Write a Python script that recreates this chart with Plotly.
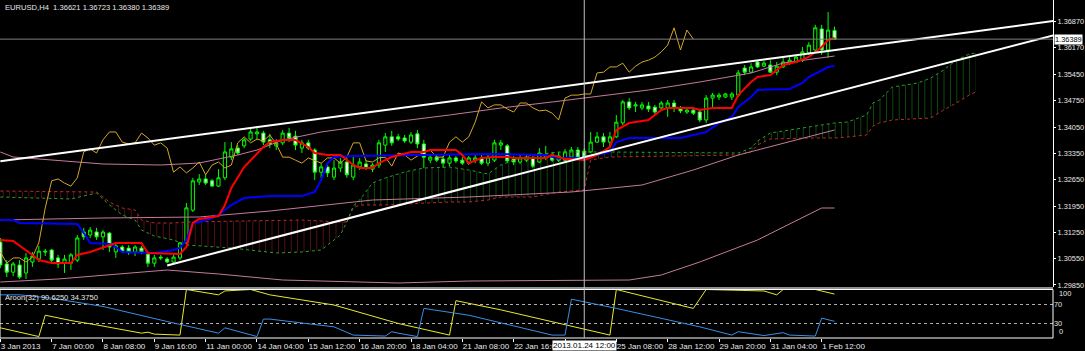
import plotly.graph_objects as go

# ---------------- data ----------------
bar_idx = list(range(131))
opens = [1.3099,1.3041,1.3019,1.3038,1.3017,1.3046,1.3054,1.3075,1.3078,1.3057,
         1.3043,1.3043,1.3051,1.3126,1.3118,1.3126,1.3113,1.3123,1.3073,1.3086,
         1.3083,1.3073,1.3083,1.3067,1.3043,1.3059,1.3054,1.3046,1.3057,1.3097,
         1.3184,1.3259,1.3267,1.3262,1.3248,1.3270,1.3325,1.3349,1.3355,1.3373,
         1.3387,1.3389,1.3371,1.3355,1.3363,1.3389,1.3381,1.3349,1.3363,1.3344,
         1.3285,1.3299,1.3272,1.3296,1.3312,1.3272,1.3299,1.3307,1.3293,1.3304,
         1.3357,1.3379,1.3379,1.3376,1.3365,1.3387,1.3360,1.3317,1.3325,1.3320,
         1.3309,1.3323,1.3317,1.3309,1.3317,1.3323,1.3309,1.3317,1.3357,1.3355,
         1.3320,1.3312,1.3317,1.3323,1.3312,1.3323,1.3331,1.3317,1.3317,1.3325,
         1.3344,1.3341,1.3339,1.3365,1.3379,1.3365,1.3379,1.3416,1.3472,1.3461,
         1.3456,1.3461,1.3458,1.3456,1.3456,1.3469,1.3456,1.3445,1.3450,1.3445,
         1.3424,1.3482,1.3485,1.3485,1.3485,1.3490,1.3562,1.3551,1.3578,1.3567,
         1.3570,1.3551,1.3565,1.3575,1.3578,1.3583,1.3602,1.3610,1.3666,1.3610,
         1.36621]
highs = [1.3110,1.3051,1.3046,1.3051,1.3070,1.3073,1.3089,1.3081,1.3081,1.3065,
         1.3065,1.3070,1.3118,1.3137,1.3139,1.3137,1.3131,1.3126,1.3097,1.3091,
         1.3091,1.3091,1.3089,1.3073,1.3065,1.3065,1.3059,1.3070,1.3099,1.3203,
         1.3270,1.3280,1.3278,1.3267,1.3293,1.3365,1.3365,1.3357,1.3376,1.3400,
         1.3403,1.3395,1.3387,1.3373,1.3397,1.3403,1.3395,1.3371,1.3371,1.3349,
         1.3309,1.3312,1.3317,1.3323,1.3323,1.3331,1.3323,1.3317,1.3309,1.3371,
         1.3389,1.3395,1.3387,1.3384,1.3392,1.3397,1.3371,1.3331,1.3333,1.3328,
         1.3331,1.3328,1.3325,1.3328,1.3331,1.3331,1.3331,1.3371,1.3371,1.3360,
         1.3328,1.3331,1.3333,1.3328,1.3349,1.3355,1.3339,1.3339,1.3347,1.3352,
         1.3352,1.3349,1.3392,1.3392,1.3389,1.3392,1.3437,1.3477,1.3482,1.3472,
         1.3472,1.3472,1.3464,1.3474,1.3477,1.3477,1.3461,1.3456,1.3456,1.3450,
         1.3490,1.3496,1.3496,1.3496,1.3498,1.3557,1.3570,1.3575,1.3583,1.3581,
         1.3583,1.3578,1.3589,1.3591,1.3597,1.3618,1.3631,1.3677,1.3677,1.3711,
         1.36723]
lows = [1.3030,1.3006,1.3009,1.3001,1.3001,1.3033,1.3046,1.3062,1.3046,1.3030,
        1.3017,1.3025,1.3046,1.3105,1.3110,1.3105,1.3078,1.3073,1.3057,1.3070,
        1.3065,1.3062,1.3067,1.3033,1.3033,1.3051,1.3043,1.3041,1.3051,1.3091,
        1.3179,1.3251,1.3251,1.3246,1.3246,1.3264,1.3317,1.3331,1.3349,1.3368,
        1.3373,1.3357,1.3349,1.3344,1.3357,1.3365,1.3344,1.3336,1.3344,1.3264,
        1.3270,1.3272,1.3264,1.3285,1.3270,1.3264,1.3291,1.3291,1.3285,1.3296,
        1.3339,1.3355,1.3368,1.3363,1.3360,1.3349,1.3296,1.3309,1.3312,1.3296,
        1.3301,1.3309,1.3304,1.3304,1.3309,1.3304,1.3301,1.3312,1.3344,1.3309,
        1.3304,1.3307,1.3312,1.3296,1.3309,1.3317,1.3312,1.3312,1.3309,1.3320,
        1.3317,1.3317,1.3336,1.3363,1.3352,1.3352,1.3376,1.3410,1.3450,1.3445,
        1.3450,1.3445,1.3437,1.3450,1.3432,1.3445,1.3442,1.3440,1.3437,1.3418,
        1.3416,1.3458,1.3477,1.3482,1.3477,1.3485,1.3543,1.3549,1.3562,1.3565,
        1.3549,1.3543,1.3562,1.3570,1.3575,1.3578,1.3597,1.3605,1.3597,1.3589,
        1.36380]
closes = [1.3038,1.3019,1.3041,1.3006,1.3057,1.3062,1.3075,1.3073,1.3051,1.3041,
          1.3054,1.3065,1.3110,1.3113,1.3131,1.3113,1.3126,1.3086,1.3089,1.3075,
          1.3073,1.3086,1.3073,1.3043,1.3057,1.3057,1.3046,1.3059,1.3097,1.3190,
          1.3262,1.3267,1.3256,1.3248,1.3270,1.3339,1.3347,1.3336,1.3371,1.3392,
          1.3392,1.3365,1.3360,1.3363,1.3389,1.3376,1.3357,1.3363,1.3349,1.3285,
          1.3299,1.3283,1.3296,1.3312,1.3278,1.3304,1.3312,1.3296,1.3304,1.3363,
          1.3379,1.3363,1.3373,1.3368,1.3384,1.3360,1.3325,1.3325,1.3317,1.3309,
          1.3323,1.3315,1.3309,1.3323,1.3323,1.3309,1.3325,1.3363,1.3363,1.3315,
          1.3312,1.3323,1.3325,1.3301,1.3336,1.3331,1.3317,1.3328,1.3339,1.3344,
          1.3325,1.3325,1.3365,1.3379,1.3365,1.3379,1.3418,1.3472,1.3456,1.3464,
          1.3464,1.3453,1.3445,1.3469,1.3469,1.3456,1.3448,1.3450,1.3442,1.3424,
          1.3482,1.3490,1.3490,1.3493,1.3493,1.3549,1.3551,1.3565,1.3565,1.3575,
          1.3551,1.3567,1.3578,1.3583,1.3591,1.3605,1.3623,1.3669,1.3610,1.3663,
          1.36389]

tenkan_idx = [0,2,5,6,8,11,12,14,18,22,23,28,29,30,31,34,35,36,38,39,41,42,44,46,48,49,51,53,54,55,
              56,58,59,61,64,66,67,71,72,73,75,77,79,80,85,86,88,89,91,93,95,96,98,101,103,104,108,109,111,114,
              115,117,118,120,121,122,124,126,127,128,129,130]
tenkan = [1.31046,1.31019,1.30647,1.30514,1.30434,1.30434,1.30647,1.30727,1.30966,1.30966,
          1.30700,1.30674,1.30860,1.31498,1.31605,1.31684,1.31977,1.32429,1.32988,1.33174,
          1.33520,1.33653,1.33706,1.33706,1.33520,1.33360,1.33307,1.33307,1.33174,1.33041,
          1.32961,1.32961,1.33094,1.33254,1.33387,1.33387,1.33440,1.33440,1.33307,1.33094,
          1.33227,1.33254,1.33254,1.33227,1.33227,1.33307,1.33201,1.33201,1.33174,1.33307,
          1.33520,1.33972,1.34158,1.34238,1.34504,1.34557,1.34557,1.34504,1.34557,1.34557,
          1.34903,1.35249,1.35382,1.35435,1.35568,1.35701,1.35781,1.35914,1.36047,1.36180,
          1.36366,1.36419]

kijun_idx = [0,2,3,12,13,14,17,18,19,24,27,28,29,30,31,33,34,36,38,42,47,49,50,51,52,55,76,85,86,87,
             91,95,96,98,106,108,110,112,114,115,117,118,123,125,126,129,130]
kijun = [1.31578,1.31578,1.31498,1.31472,1.31232,1.30966,1.30940,1.30860,1.30727,1.30700,
         1.30780,1.30833,1.31046,1.31498,1.31525,1.31631,1.31711,1.31977,1.32163,1.32216,
         1.32216,1.32323,1.32642,1.33094,1.33254,1.33280,1.33334,1.33307,1.33254,1.33227,
         1.33227,1.33387,1.33653,1.33759,1.33759,1.33839,1.33919,1.34158,1.34318,1.34584,
         1.34850,1.35036,1.35063,1.35222,1.35382,1.35648,1.35674]

chikou_shift = 22

cloud_idx = [0,11,15,17,19,21,22,24,27,29,36,43,47,50,52,53,54,55,56,57,
             58,60,63,66,70,73,76,78,80,83,87,91,92,95,115,117,118,120,126,130,
             132,135,136,137,139,143,145,147,149,151,152]
span_a = [1.32190,1.32137,1.32296,1.31977,1.31711,1.31578,1.31312,1.31152,1.31046,1.30913,
          1.30833,1.30700,1.30727,1.30780,1.31046,1.31179,1.31525,1.31950,1.32110,1.32323,
          1.32562,1.32695,1.32855,1.32961,1.32988,1.32908,1.32802,1.33041,1.33174,1.33307,
          1.33387,1.33387,1.33387,1.33387,1.33360,1.33493,1.33679,1.33892,1.34052,1.34158,
          1.34185,1.34371,1.34690,1.34770,1.35116,1.35222,1.35355,1.35568,1.35834,1.35994,
          1.36020]
span_b = [1.32349,1.32323,1.32323,1.32057,1.31897,1.31844,1.31578,1.31498,1.31498,1.31525,
          1.31551,1.31578,1.31578,1.31551,1.31525,1.31525,1.31525,1.31897,1.31977,1.31977,
          1.31977,1.31977,1.32004,1.32030,1.32057,1.32057,1.32110,1.32190,1.32190,1.32190,
          1.32323,1.32376,1.33174,1.33254,1.33307,1.33387,1.33573,1.33733,1.33759,1.33759,
          1.33786,1.33839,1.34078,1.34158,1.34238,1.34265,1.34291,1.34504,1.34690,1.34903,
          1.34983]
cloud_twist_bar = 54

band_up_idx = [0,2,16,25,31,37,40,42,44,50,60,70,78,86,101,109,117,122,129,130]
band_up = [1.33387,1.33254,1.33068,1.33041,1.33094,1.33307,1.33440,1.33573,1.33706,1.33919,
           1.34158,1.34371,1.34557,1.34717,1.35036,1.35249,1.35488,1.35754,1.35914,1.35940]
band_mid_idx = [0,16,31,42,58,73,89,100,108,115,130]
band_mid = [1.31578,1.31631,1.31658,1.31817,1.32110,1.32190,1.32323,1.32509,1.32908,1.33307,1.33972]
band_low_idx = [0,9,26,34,44,62,73,98,103,109,118,125,128,130]
band_low = [1.29929,1.30009,1.30248,1.30142,1.29982,1.29902,1.29955,1.29982,1.30115,1.30461,
            1.31046,1.31631,1.31897,1.31897]

trend_upper_idx = [0, 165]
trend_upper = [1.3314, 1.3689]
trend_lower_idx = [26, 165]
trend_lower = [1.3037, 1.3653]

aroon_up_idx = [0,6,7,11,15,22,23,24,28,29,34,35,39,42,52,62,70,71,78,88,95,96,108,110,116,119,121,122,127,130]
aroon_up = [21,3,47,36,27,10,12,8,6,100,89,97,100,89,68,30,6,77,58,27,6,100,61,100,97,97,89,100,100,90.625]
aroon_dn_idx = [0,3,8,16,26,34,35,40,41,42,52,55,60,61,62,65,66,73,86,88,89,96,109,114,115,119,122,123,127,128,130]
aroon_dn = [89,89,82,65,34,10,21,3,39,39,23,6,4,13,10,3,61,47,6,6,80,61,23,6,13,5,11,6,4,41,34.375]

price_ticks = [1.36870,1.36170,1.35450,1.34750,1.34050,1.33350,1.32650,1.31950,1.31250,1.30550,1.29850]
time_tick_idx = list(range(0, 129, 8))
# the 24 Jan 00:00 label sits under the crosshair date box in the reference
time_tick_text = ["3 Jan 2013","7 Jan 00:00","8 Jan 08:00","9 Jan 16:00","11 Jan 00:00","14 Jan 04:00",
                  "15 Jan 12:00","16 Jan 20:00","18 Jan 04:00","21 Jan 08:00","22 Jan 16:00","",
                  "25 Jan 08:00","28 Jan 12:00","29 Jan 20:00","31 Jan 04:00","1 Feb 12:00"]
crosshair_bar = 91
crosshair_text = "2013.01.24 12:00"
symbol_text = "EURUSD,H4"

# ---------------- figure ----------------
FONT = "Liberation Sans"
TXT = "#e8e8e8"
fig = go.Figure()

# cloud (split at the twist)
k = cloud_idx.index(cloud_twist_bar)
segments = [(slice(0, k + 1), "#a02020"), (slice(k, len(cloud_idx)), "#1c8c1c")]
for sl, col in segments:
    fig.add_trace(go.Scatter(x=cloud_idx[sl], y=span_b[sl], mode="lines",
                             line=dict(color="#c02828", width=1, dash="dot"),
                             hoverinfo="skip", showlegend=False))
    fig.add_trace(go.Scatter(x=cloud_idx[sl], y=span_a[sl], mode="lines",
                             line=dict(color="#28a028", width=1, dash="dot"),
                             fill="tonexty", fillcolor="rgba(0,0,0,0)",
                             fillpattern=dict(shape="|", fgcolor=col, bgcolor="rgba(0,0,0,0)",
                                              size=6.4, solidity=0.15, fgopacity=0.55),
                             hoverinfo="skip", showlegend=False))

# bands
for bx, by in [(band_up_idx, band_up), (band_mid_idx, band_mid), (band_low_idx, band_low)]:
    fig.add_trace(go.Scatter(x=bx, y=by, mode="lines", line=dict(color="#c47a9e", width=1),
                             hoverinfo="skip", showlegend=False))

# candles
fig.add_trace(go.Candlestick(x=bar_idx, open=opens, high=highs, low=lows, close=closes,
                             increasing=dict(line=dict(color="#00ff00", width=1), fillcolor="#000000"),
                             decreasing=dict(line=dict(color="#00ff00", width=1), fillcolor="#ffffff"),
                             whiskerwidth=0, showlegend=False))

# chikou
fig.add_trace(go.Scatter(x=[i - chikou_shift for i in bar_idx[chikou_shift:]], y=closes[chikou_shift:],
                         mode="lines", line=dict(color="#d4a628", width=1),
                         hoverinfo="skip", showlegend=False))
# kijun, tenkan
fig.add_trace(go.Scatter(x=kijun_idx, y=kijun, mode="lines", line=dict(color="#0000ff", width=2),
                         hoverinfo="skip", showlegend=False))
fig.add_trace(go.Scatter(x=tenkan_idx, y=tenkan, mode="lines", line=dict(color="#ff0000", width=2),
                         hoverinfo="skip", showlegend=False))
# trend lines
for tx, ty in [(trend_upper_idx, trend_upper), (trend_lower_idx, trend_lower)]:
    fig.add_trace(go.Scatter(x=tx, y=ty, mode="lines", line=dict(color="#ffffff", width=2),
                             hoverinfo="skip", showlegend=False))

# Aroon
fig.add_trace(go.Scatter(x=aroon_up_idx, y=aroon_up, mode="lines", line=dict(color="#e8e830", width=1),
                         xaxis="x2", yaxis="y2", hoverinfo="skip", showlegend=False))
fig.add_trace(go.Scatter(x=aroon_dn_idx, y=aroon_dn, mode="lines", line=dict(color="#3a8ee6", width=1),
                         xaxis="x2", yaxis="y2", hoverinfo="skip", showlegend=False))

xr = [-0.05, 164.05]
fig.update_layout(
    width=1085, height=351,
    margin=dict(l=0, r=32, t=0, b=13, autoexpand=False),
    paper_bgcolor="#000000", plot_bgcolor="#000000",
    font=dict(family=FONT, size=8, color=TXT),
    showlegend=False,
    xaxis=dict(domain=[0, 1], anchor="y", range=xr, matches="x2", showticklabels=False,
               showgrid=False, zeroline=False, rangeslider=dict(visible=False), ticks=""),
    yaxis=dict(domain=[0.1509, 1], range=[1.29796, 1.3743], side="right", showgrid=False,
               zeroline=False, tickvals=price_ticks, ticktext=[f"{v:.5f}" for v in price_ticks],
               ticks="outside", ticklen=2, tickcolor="#ffffff", showline=True, linecolor="#ffffff",
               linewidth=1, automargin=False, tickfont=dict(size=7.4, color=TXT, family=FONT)),
    xaxis2=dict(domain=[0, 1], anchor="y2", range=xr, showgrid=False, zeroline=False,
                tickvals=time_tick_idx, ticktext=time_tick_text, ticks="outside", ticklen=3,
                tickcolor="#ffffff", ticklabelposition="outside right", tickangle=0,
                automargin=False, tickfont=dict(size=8, color=TXT, family=FONT)),
    yaxis2=dict(domain=[0, 0.1435], range=[0, 100], side="right", zeroline=False,
                tickvals=[70, 30], ticktext=["70", "30"], showgrid=True, gridcolor="#b0b0b0",
                griddash="dot", gridwidth=1, ticks="", automargin=False,
                tickfont=dict(size=7.4, color=TXT, family=FONT)),
)

# separator, borders, price line, crosshair
fig.add_shape(type="line", xref="paper", yref="paper", x0=0, x1=1, y0=0.1479, y1=0.1479,
              line=dict(color="#909090", width=2))
fig.add_shape(type="rect", xref="paper", yref="y2 domain", x0=0, x1=1, y0=0, y1=1,
              line=dict(color="#ffffff", width=1))
fig.add_shape(type="line", xref="paper", yref="y", x0=0, x1=1, y0=closes[-1], y1=closes[-1],
              line=dict(color="#808080", width=1))
fig.add_shape(type="line", xref="x2", yref="paper", x0=crosshair_bar, x1=crosshair_bar, y0=0, y1=1,
              line=dict(color="#c0c0c0", width=1))

fig.add_annotation(xref="paper", yref="y", x=1, y=closes[-1], xanchor="left", xshift=1,
                   text=f"{closes[-1]:.5f}", showarrow=False, bgcolor="#ffffff", borderpad=0,
                   font=dict(color="#000000", size=7.4, family=FONT))
fig.add_annotation(xref="x2", yref="paper", x=crosshair_bar, y=0, yanchor="top", yshift=-2,
                   text=crosshair_text, showarrow=False, bgcolor="#ffffff", borderpad=0,
                   font=dict(color="#000000", size=8, family=FONT))
fig.add_annotation(xref="paper", yref="paper", x=0.003, y=1, xanchor="left", yanchor="top", yshift=-1,
                   text=f"{symbol_text}  {opens[-1]:.5f} {highs[-1]:.5f} {lows[-1]:.5f} {closes[-1]:.5f}",
                   showarrow=False, font=dict(color=TXT, size=7.6, family=FONT))
fig.add_annotation(xref="paper", yref="y2 domain", x=0.003, y=1, xanchor="left", yanchor="top", yshift=-2,
                   text=f"Aroon(32) {aroon_up[-1]:.4f} {aroon_dn[-1]:.4f}",
                   showarrow=False, font=dict(color=TXT, size=7.6, family=FONT))
fig.add_annotation(xref="paper", yref="y2", x=1, y=100, xanchor="left", yanchor="top", xshift=4, yshift=2,
                   text="100", showarrow=False, font=dict(color=TXT, size=7.4, family=FONT))
fig.add_annotation(xref="paper", yref="y2", x=1, y=0, xanchor="left", yanchor="bottom", xshift=4,
                   text="0", showarrow=False, font=dict(color=TXT, size=7.4, family=FONT))

fig.write_html("out.html")
